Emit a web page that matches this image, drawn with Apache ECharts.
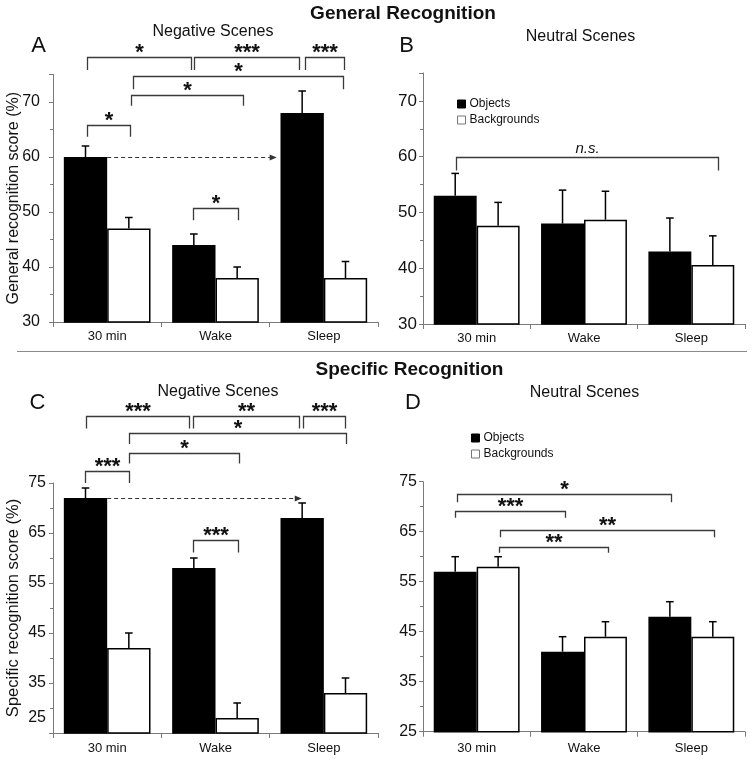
<!DOCTYPE html>
<html>
<head>
<meta charset="utf-8">
<script src="https://cdn.jsdelivr.net/npm/echarts@6/dist/echarts.min.js"></script>
<style>html,body{margin:0;padding:0;background:#fff}#c{width:754px;height:763px}</style>
</head>
<body>
<div id="c"></div>
<script>
// ---------- data ----------
const categories = ['30 min', 'Wake', 'Sleep'];
const seriesNames = ['Objects', 'Backgrounds'];
const yTicksGeneral = [30, 75, 10];   // min, max, interval
const yTicksSpecific = [25, 75, 10];

// General recognition, negative scenes (A)
const genNegObj = [60, 44, 68];
const genNegObjSem = [2, 2, 4];
const genNegBg = [47, 38, 38];
const genNegBgSem = [2, 2, 3];
// General recognition, neutral scenes (B)
const genNeuObj = [53, 48, 43];
const genNeuObjSem = [4, 6, 6];
const genNeuBg = [47.6, 48.7, 40.6];
const genNeuBgSem = [4.2, 5.1, 5.2];
// Specific recognition, negative scenes (C)
const specNegObj = [72, 58, 68];
const specNegObjSem = [2, 2, 3];
const specNegBg = [42, 28, 33];
const specNegBgSem = [3, 3, 3];
// Specific recognition, neutral scenes (D)
const specNeuObj = [57, 41, 48];
const specNeuObjSem = [3, 3, 3];
const specNeuBg = [58, 44, 44];
const specNeuBgSem = [2, 3, 3];

// significance brackets: [x start, x end (category units from 30 min centre), line level, left drop, right drop]
const bracketsA = [[-0.19, 0.77, 78.2, 75.8, 75.8], [0.80, 1.77, 78.2, 75.8, 75.8], [1.83, 2.19, 78.2, 75.8, 75.8],
                   [0.235, 2.18, 74.7, 72.3, 72.3], [0.217, 1.25, 71.3, 69.3, 69.3], [-0.19, 0.21, 65.9, 63.7, 63.7],
                   [0.795, 1.205, 50.8, 48.5, 48.5]];
const bracketLabelsA = ['*', '***', '***', '*', '*', '*', '*'];
const bracketsB = [[-0.193, 2.25, 59.9, 57.5, 57.5]];
const bracketLabelsB = ['n.s.'];
const bracketsC = [[-0.196, 0.758, 88.4, 85.9, 85.9], [0.79, 1.774, 88.4, 85.9, 85.9], [1.81, 2.196, 88.4, 85.9, 85.9],
                   [0.204, 2.205, 85.1, 82.8, 82.8], [0.204, 1.217, 81.1, 78.9, 78.9], [-0.202, 0.204, 77.5, 75, 75],
                   [0.795, 1.205, 63.7, 61.1, 61.1]];
const bracketLabelsC = ['***', '**', '***', '*', '*', '***', '***'];
const bracketsD = [[-0.186, 1.81, 72.5, 70.9, 70.9], [-0.2, 0.825, 69.1, 67.8, 67.8],
                   [0.217, 2.214, 65.3, 63.9, 63.9], [0.205, 1.222, 62, 60.8, 60.8]];
const bracketLabelsD = ['*', '***', '**', '**'];
// dashed arrows: [x start, x end, level]
const arrowA = [[0, 1.565, 60]];
const arrowC = [[0, 1.796, 72]];

// ---------- rendering ----------
const FONT = 'Liberation Sans, Arial, Helvetica, sans-serif';
const chart = echarts.init(document.getElementById('c'), null, {renderer: 'canvas'});

function errRender(sign) {
  return function (params, api) {
    const x = api.value(0);
    const top = api.coord([x, api.value(1)]);
    const base = api.coord([x, api.value(2)]);
    const band = api.size([1, 0])[0];
    const cx = top[0] + sign * band * 0.2;
    const cap = 3.8;
    const st = {stroke: '#000', lineWidth: 1.5};
    return {type: 'group', children: [
      {type: 'line', shape: {x1: cx, y1: base[1], x2: cx, y2: top[1]}, style: st},
      {type: 'line', shape: {x1: cx - cap, y1: top[1], x2: cx + cap, y2: top[1]}, style: st}
    ]};
  };
}
function bracketRender(labels, italic) {
  return function (params, api) {
    const c0 = api.coord([0, api.value(1)]);
    const band = api.size([1, 0])[0];
    const x1 = Math.round(c0[0] + api.value(2) * band) + 0.5;
    const x2 = Math.round(c0[0] + api.value(3) * band) + 0.5;
    const yL = Math.round(c0[1]) + 0.5;
    const y1 = api.coord([0, api.value(4)])[1];
    const y2 = api.coord([0, api.value(5)])[1];
    const lab = labels[params.dataIndex];
    return {type: 'group', children: [
      {type: 'polyline', shape: {points: [[x1, y1], [x1, yL], [x2, yL], [x2, y2]]},
       style: {stroke: '#3a3a3a', lineWidth: 1.3, fill: null}},
      {type: 'text', x: (x1 + x2) / 2, y: italic ? yL - 1 : yL - 5,
       style: {text: lab, fill: '#111', fontFamily: FONT,
               fontSize: italic ? 15 : 22, fontStyle: italic ? 'italic' : 'normal',
               fontWeight: italic ? 'normal' : 'bold',
               align: 'center', verticalAlign: italic ? 'bottom' : 'middle'}}
    ]};
  };
}
function arrowRender(params, api) {
  const c0 = api.coord([0, api.value(1)]);
  const band = api.size([1, 0])[0];
  const x1 = c0[0] + api.value(2) * band;
  const x2 = c0[0] + api.value(3) * band;
  const y = Math.round(c0[1]) + 0.5;
  return {type: 'group', children: [
    {type: 'line', shape: {x1: x1, y1: y, x2: x2 - 5, y2: y}, style: {stroke: '#333', lineWidth: 1, lineDash: [4, 3]}},
    {type: 'polygon', shape: {points: [[x2, y], [x2 - 7, y - 3], [x2 - 7, y + 3]]}, style: {fill: '#333'}}
  ]};
}

const grids = [
  {left: 53, top: 74.5, width: 325, height: 247.5},
  {left: 423, top: 73, width: 322, height: 251},
  {left: 53, top: 483, width: 325, height: 250},
  {left: 423, top: 481.7, width: 322, height: 250}
];

function xAxis(i, fs, margin) {
  return {type: 'category', gridIndex: i, data: categories,
    axisLine: {lineStyle: {color: '#7a7a7a', width: 1}},
    axisTick: {show: true, length: 5, lineStyle: {color: '#7a7a7a'}},
    axisLabel: {fontFamily: FONT, fontSize: fs, color: '#111', margin: margin},
    splitLine: {show: false}};
}
function yAxis(i, ticks, fs, margin, name, nameFs, nameGap, fmt) {
  return {type: 'value', gridIndex: i, min: ticks[0], max: ticks[1], interval: ticks[2],
    axisLine: {show: true, lineStyle: {color: '#7a7a7a', width: 1}},
    axisTick: {show: true, length: 4, lineStyle: {color: '#7a7a7a'}},
    minorTick: {show: true, splitNumber: 2, length: 3, lineStyle: {color: '#7a7a7a'}},
    splitLine: {show: false}, minorSplitLine: {show: false},
    axisLabel: {fontFamily: FONT, fontSize: fs, color: '#111', margin: margin, formatter: fmt,
      rich: {lift: {fontFamily: FONT, fontSize: fs, color: '#111', padding: [0, 0, 31, 0]}}},
    name: name, nameLocation: 'middle', nameGap: nameGap, nameMoveOverlap: false,
    nameTextStyle: {fontFamily: FONT, fontSize: nameFs, color: '#111'}};
}

function panelSeries(i, obj, objSem, bg, bgSem, brackets, labels, italic, arrows) {
  const s = [
    {type: 'bar', name: seriesNames[0], xAxisIndex: i, yAxisIndex: i, data: obj, barWidth: '40%', barGap: '0%',
     itemStyle: {color: '#000', borderColor: '#000', borderWidth: 1.5}, z: 2},
    {type: 'bar', name: seriesNames[1], xAxisIndex: i, yAxisIndex: i, data: bg, barWidth: '40%', barGap: '0%',
     itemStyle: {color: '#fff', borderColor: '#000', borderWidth: 1.5}, z: 2},
    {type: 'custom', xAxisIndex: i, yAxisIndex: i, renderItem: errRender(-1), clip: false, z: 3,
     data: obj.map((v, k) => [k, v + objSem[k], v]), encode: {x: 0, y: [1, 2]}},
    {type: 'custom', xAxisIndex: i, yAxisIndex: i, renderItem: errRender(1), clip: false, z: 3,
     data: bg.map((v, k) => [k, v + bgSem[k], v]), encode: {x: 0, y: [1, 2]}},
    {type: 'custom', xAxisIndex: i, yAxisIndex: i, renderItem: bracketRender(labels, italic), clip: false, z: 4,
     data: brackets.map(b => [0, b[2], b[0], b[1], b[3], b[4]]), encode: {x: 0, y: 1}}
  ];
  if (arrows) {
    s.push({type: 'custom', xAxisIndex: i, yAxisIndex: i, renderItem: arrowRender, clip: false, z: 4,
      data: arrows.map(a => [0, a[2], a[0], a[1]]), encode: {x: 0, y: 1}});
  }
  return s;
}

function legend(left, top) {
  return {left: left, top: top, orient: 'vertical', itemWidth: 8, itemHeight: 8, itemGap: 4,
    selectedMode: false, icon: 'rect',
    textStyle: {fontFamily: FONT, fontSize: 12, color: '#111', padding: [0, 0, 0, -1]},
    data: [{name: seriesNames[0], itemStyle: {color: '#000', borderColor: '#000', borderWidth: 1}},
           {name: seriesNames[1], itemStyle: {color: '#fff', borderColor: '#777', borderWidth: 1}}]};
}

function txt(text, x, y, size, bold, extra) {
  return Object.assign({type: 'text', x: x, y: y, silent: true,
    style: {text: text, fontFamily: FONT, fontSize: size, fontWeight: bold ? 'bold' : 'normal',
            fill: '#111', align: 'center', verticalAlign: 'middle'}}, extra || {});
}

const option = {
  animation: false,
  backgroundColor: '#fff',
  grid: grids,
  xAxis: [xAxis(0, 13, 8), xAxis(1, 13, 8), xAxis(2, 13, 9), xAxis(3, 13, 10)],
  yAxis: [
    yAxis(0, yTicksGeneral, 16, 13, 'General recognition score (%)', 16, 31, v => v === 75 ? '' : v),
    yAxis(1, yTicksGeneral, 17, 6, '', 16, 29, v => v === 75 ? '' : v),
    yAxis(2, yTicksSpecific, 16, 7, 'Specific recognition score (%)', 16.5, 31, v => v === 25 ? '{lift|25}' : v),
    yAxis(3, yTicksSpecific, 16, 6, '', 15, 32, v => v)
  ],
  legend: [legend(452, 93), legend(466, 427)],
  series: [].concat(
    panelSeries(0, genNegObj, genNegObjSem, genNegBg, genNegBgSem, bracketsA, bracketLabelsA, false, arrowA),
    panelSeries(1, genNeuObj, genNeuObjSem, genNeuBg, genNeuBgSem, bracketsB, bracketLabelsB, true, null),
    panelSeries(2, specNegObj, specNegObjSem, specNegBg, specNegBgSem, bracketsC, bracketLabelsC, false, arrowC),
    panelSeries(3, specNeuObj, specNeuObjSem, specNeuBg, specNeuBgSem, bracketsD, bracketLabelsD, false, null)
  ),
  graphic: [
    txt('General Recognition', 403, 14, 19, true),
    txt('Negative Scenes', 213, 32, 16, false),
    txt('Neutral Scenes', 580.5, 37, 16, false),
    txt('A', 38.5, 45.5, 22, false),
    txt('B', 406.5, 45.5, 22, false),
    {type: 'line', shape: {x1: 17, y1: 351.5, x2: 747, y2: 351.5}, style: {stroke: '#8a8a8a', lineWidth: 1}},
    txt('Specific Recognition', 409.5, 369.5, 19, true),
    txt('Negative Scenes', 218, 391.5, 16, false),
    txt('Neutral Scenes', 584.5, 393, 16, false),
    txt('C', 37.5, 402.5, 22, false),
    txt('D', 413, 402.5, 22, false)
  ]
};
chart.setOption(option);
</script>
</body>
</html>
